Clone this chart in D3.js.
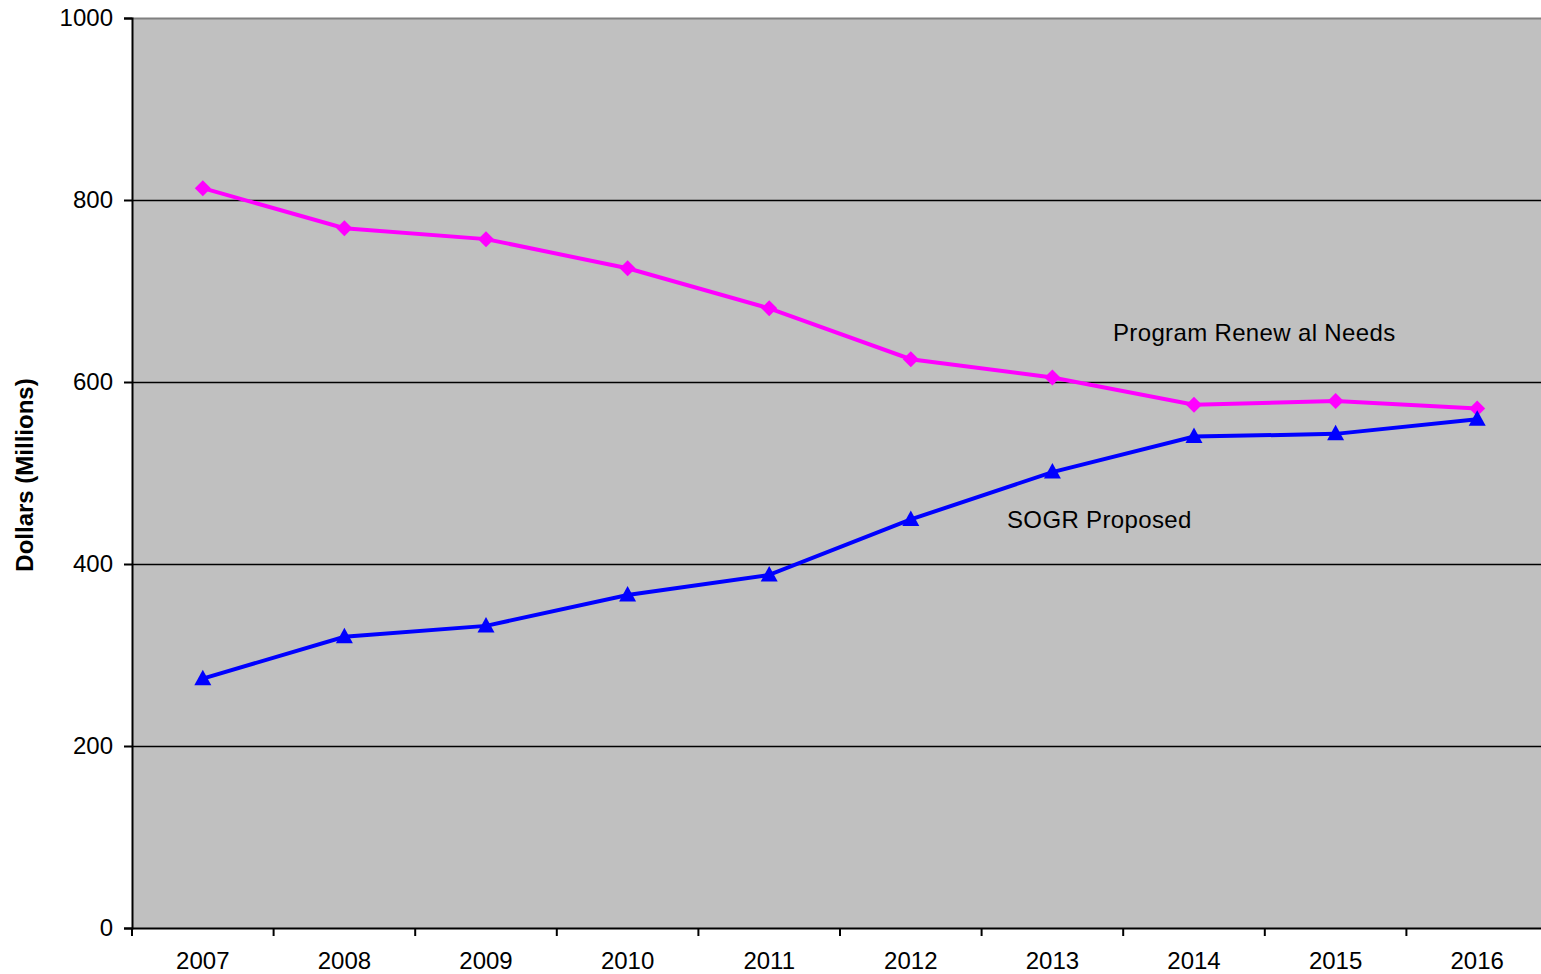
<!DOCTYPE html>
<html><head><meta charset="utf-8">
<script src="https://cdn.jsdelivr.net/npm/d3@7"></script>
<style>body{margin:0;background:#fff;}svg{display:block;font-family:"Liberation Sans",Arial,sans-serif;}</style>
</head><body>
<svg id="c" width="1541" height="974"></svg>
<script>
const years = ["2007","2008","2009","2010","2011","2012","2013","2014","2015","2016"];
const renewalNeeds = [813, 769, 757, 725, 681, 625, 605, 575, 579, 571];
const sogrProposed = [274, 320, 332, 366, 388, 449, 501, 540, 543, 559];
const yTicks = [0, 200, 400, 600, 800, 1000];
const seriesLabels = ["Program Renew al Needs", "SOGR Proposed"];

const svg = d3.select("#c");
const L = 132, R = 1548, T = 18, B = 928;
const x = d3.scaleBand().domain(years).range([L, R]);
const y = d3.scaleLinear().domain([0, 1000]).range([B, T]);
const FONT = "Liberation Sans, Arial, sans-serif";

svg.append("rect").attr("x", L).attr("y", T).attr("width", R - L).attr("height", B - T).attr("fill", "#c0c0c0");
svg.append("line").attr("x1", L).attr("x2", R).attr("y1", T + 0.5).attr("y2", T + 0.5).attr("stroke", "#808080").attr("stroke-width", 2);

// gridlines
svg.append("g").selectAll("line").data(yTicks.filter(d => d > 0 && d < 1000)).join("line")
  .attr("x1", L).attr("x2", R).attr("y1", d => Math.round(y(d)) + 0.5).attr("y2", d => Math.round(y(d)) + 0.5)
  .attr("stroke", "#000").attr("stroke-width", 1.6);

// y axis
const ya = svg.append("g").attr("transform", `translate(${L},0)`)
  .call(d3.axisLeft(y).tickValues(yTicks).tickSize(8).tickPadding(11).tickFormat(d3.format("d")));
ya.select(".domain").attr("stroke", "#000").attr("stroke-width", 2);
ya.selectAll(".tick line").attr("stroke", "#000").attr("stroke-width", 2);
ya.selectAll("text").attr("font-size", 24).attr("fill", "#000").attr("font-family", FONT);

// x axis
const xa = svg.append("g").attr("transform", `translate(0,${B})`)
  .call(d3.axisBottom(x).tickSize(0).tickPadding(24));
xa.select(".domain").attr("stroke", "#000").attr("stroke-width", 2);
xa.selectAll("text").attr("font-size", 24).attr("fill", "#000").attr("font-family", FONT);
// boundary ticks
const bounds = years.map(d => x(d)).concat([R]);
svg.append("g").selectAll("line").data(bounds).join("line")
  .attr("x1", d => d).attr("x2", d => d).attr("y1", B).attr("y2", B + 8)
  .attr("stroke", "#000").attr("stroke-width", 2);

// y label
svg.append("text").attr("transform", "translate(33,475) rotate(-90)")
  .attr("text-anchor", "middle").attr("font-size", 24).attr("font-weight", "bold").attr("font-family", FONT)
  .text("Dollars (Millions)");

const cx = d => x(d) + x.bandwidth() / 2;
const line = d3.line().x((d, i) => cx(years[i])).y(d => y(d));

svg.append("path").datum(renewalNeeds).attr("d", line).attr("fill", "none").attr("stroke", "#ff00ff").attr("stroke-width", 4);
svg.append("path").datum(sogrProposed).attr("d", line).attr("fill", "none").attr("stroke", "#0000ff").attr("stroke-width", 4);

svg.append("g").selectAll("path").data(renewalNeeds).join("path")
  .attr("transform", (d, i) => `translate(${cx(years[i])},${y(d)})`)
  .attr("d", "M0,-8L8,0L0,8L-8,0Z").attr("fill", "#ff00ff");
svg.append("g").selectAll("path").data(sogrProposed).join("path")
  .attr("transform", (d, i) => `translate(${cx(years[i])},${y(d)})`)
  .attr("d", "M0,-9L8.5,6.5L-8.5,6.5Z").attr("fill", "#0000ff");

svg.append("text").attr("x", 1113).attr("y", 341).attr("font-size", 24).attr("letter-spacing", 0.35).attr("font-family", FONT).text(seriesLabels[0]);
svg.append("text").attr("x", 1007).attr("y", 528).attr("font-size", 24).attr("letter-spacing", 0.35).attr("font-family", FONT).text(seriesLabels[1]);
</script>
</body></html>
